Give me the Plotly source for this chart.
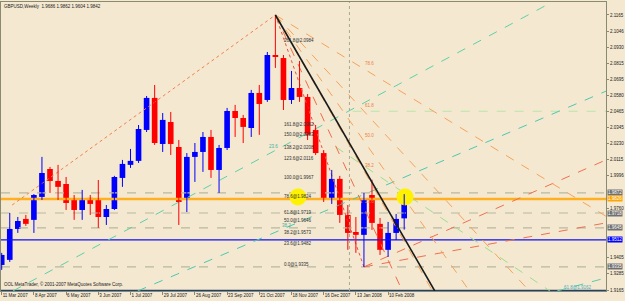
import plotly.graph_objects as go

# ---------------- data ----------------
tick_bars = [0, 4, 8, 12, 16, 20, 24, 28, 32, 36, 40, 44, 48]
tick_labels = ["11 Mar 2007", "8 Apr 2007", "6 May 2007", "3 Jun 2007", "1 Jul 2007",
               "29 Jul 2007", "26 Aug 2007", "23 Sep 2007", "21 Oct 2007", "18 Nov 2007",
               "16 Dec 2007", "13 Jan 2008", "10 Feb 2008"]

opens = [1.9347, 1.9384, 1.9609, 1.9682, 1.9675, 1.9842, 2.0045, 1.9958, 1.9936, 1.9827,
         1.9747, 1.9835, 1.9820, 1.9696, 1.9754, 1.9980, 2.0075, 2.0104, 2.0329, 2.0562,
         2.0227, 2.0387, 2.0205, 1.9820, 2.0133, 2.0169, 2.0278, 2.0038, 2.0198, 2.0467,
         2.0416, 2.0343, 2.0598, 2.0547, 2.0874, 2.0852, 2.0547, 2.0634, 2.0569, 2.0329,
         2.0161, 1.9820, 1.9973, 1.9711, 1.9587, 1.9566, 1.9856, 1.9646, 1.9457, 1.9580,
         1.9686]
highs = [1.9435, 1.9725, 1.9696, 1.9711, 1.9863, 2.0133, 2.0060, 2.0075, 1.9987, 1.9856,
         1.9893, 1.9856, 1.9965, 1.9783, 1.9995, 2.0111, 2.0191, 2.0365, 2.0576, 2.0656,
         2.0452, 2.0460, 2.0256, 2.0161, 2.0234, 2.0314, 2.0329, 2.0220, 2.0489, 2.0511,
         2.0438, 2.0620, 2.0656, 2.0896, 2.1165, 2.0874, 2.0758, 2.0831, 2.0590, 2.0365,
         2.0183, 2.0038, 1.9995, 1.9783, 1.9696, 1.9871, 1.9967, 1.9689, 1.9660, 1.9718,
         1.9862]
lows = [1.9311, 1.9369, 1.9580, 1.9631, 1.9580, 1.9820, 1.9871, 1.9820, 1.9747, 1.9675,
        1.9675, 1.9711, 1.9617, 1.9638, 1.9747, 1.9915, 2.0053, 2.0089, 2.0314, 2.0220,
        2.0169, 2.0147, 1.9638, 1.9732, 1.9951, 2.0024, 1.9980, 1.9871, 2.0183, 2.0278,
        2.0234, 2.0278, 2.0293, 2.0533, 2.0780, 2.0474, 2.0518, 2.0533, 2.0256, 2.0147,
        1.9805, 1.9791, 1.9653, 1.9457, 1.9435, 1.9333, 1.9602, 1.9420, 1.9406, 1.9529,
        1.9604]
closes = [1.9420, 1.9609, 1.9667, 1.9646, 1.9856, 2.0016, 1.9958, 1.9915, 1.9798, 1.9747,
          1.9820, 1.9791, 1.9696, 1.9754, 1.9987, 2.0082, 2.0104, 2.0336, 2.0562, 2.0234,
          2.0402, 2.0227, 1.9805, 2.0133, 2.0169, 2.0278, 2.0038, 2.0198, 2.0467, 2.0416,
          2.0351, 2.0598, 2.0518, 2.0874, 2.0860, 2.0547, 2.0634, 2.0569, 2.0293, 2.0161,
          1.9820, 1.9973, 1.9711, 1.9580, 1.9566, 1.9820, 1.9653, 1.9457, 1.9580, 1.9682,
          1.9842]

price_ticks = [2.1165, 2.1046, 2.0930, 2.0815, 2.0695, 2.0580, 2.0465, 2.0345, 2.0230,
               2.0115, 1.9996, 1.9760, 1.9405, 1.9285, 1.9165]

# horizontal levels
gray_levels = [1.9871, 1.9725, 1.9617, 1.9333]
gray_level_text = ["1.9872", "1.9718", "1.9645", "1.9335"]
orange_level = 1.9827
orange_level_text = "1.9826"
blue_level = 1.9529
blue_level_text = "1.9512"
green_level = 2.0465
green_level_start = 43.6

# Fibonacci fan: from the peak to the January low
peak_bar, peak_price = 34.0, 2.1165
low_bar, low_price = 45.0, 1.9333
fan_levels = [0.786, 0.618, 0.500, 0.382, 0.236]
fan_texts = ["78.6", "61.8", "50.0", "38.2", "23.6"]
fan_colors = ["#F5A35A", "#F5A35A", "#F5A35A", "#F5A35A", "#F26B4A"]
black_end = (53.8, 1.9158)
# rising dotted line into the peak
rise_start = (1.3, 1.9783)
# green / cyan rising lines (start bar, start price, end bar, end price)
green_lines = [(1.4, 1.9158, 68.0, 2.1247),
               (16.9, 1.9158, 75.07, 2.0611),
               (69.0, 1.9158, 75.07, 1.9253)]
# light green falling line
lgreen_line = (41.5, 2.0205, 68.1, 1.9158)
# red rising lines from the low
red_lines = [(45.0, 1.9333, 75.07, 2.0111),
             (45.0, 1.9333, 75.07, 1.9653)]
fan_vertical_bar = 43.2

fib_texts = ["261.8@2.0984", "161.8@2.0362", "150.0@2.0283", "138.2@2.0208", "123.6@2.0116",
             "100.0@1.9967", "78.6@1.9824", "61.8@1.9719", "50.0@1.9646", "38.2@1.9573",
             "23.6@1.9482", "0.0@1.9335"]
fib_text_prices = [2.0983, 2.0365, 2.0293, 2.0205, 2.0125, 1.9980, 1.9842, 1.9732,
                   1.9667, 1.9580, 1.9500, 1.9347]
yellow_bars = [36.8, 50.1]
yellow_prices = [1.9842, 1.9842]

title_text = "GBPUSD,Weekly  1.9686 1.9862 1.9604 1.9842"
copyright_text = "OOL MetaTrader, \u00a9 2001-2007 MetaQuotes Software Corp."

# ---------------- figure ----------------
BG = "#F4E8D0"
AX = "#8A8A70"
XMIN, XMAX = -0.087, 75.07
YMIN, YMAX = 1.91577, 2.12595
FONT = "Liberation Sans"
FS = 4.5

fig = go.Figure()

def seg(x0, y0, x1, y1, color, dash="dash", width=1):
    fig.add_trace(go.Scatter(x=[x0, x1], y=[y0, y1], mode="lines",
                             line=dict(color=color, width=width, dash=dash),
                             hoverinfo="skip", showlegend=False))

# horizontal lines
for lv in gray_levels:
    seg(XMIN, lv, XMAX, lv, "#B8B8A0", "dash", 1.2)
seg(green_level_start, green_level, XMAX, green_level, "#B8E6A8", "dash", 1.2)
seg(XMIN, orange_level, XMAX, orange_level, "#FFB020", "solid", 2.5)
seg(XMIN, blue_level, XMAX, blue_level, "#1010F0", "solid", 1.3)
seg(XMIN, YMIN + 0.0004, XMAX, YMIN + 0.0004, "#204070", "solid", 1.5)

# vertical dotted
seg(fan_vertical_bar, YMIN, fan_vertical_bar, YMAX, "#A8A890", "dot", 1)

# green / cyan rising lines
gcols = ["#5ED0A8", "#4CC8B0", "#5CCCB0"]
for (a, b, c, d), col in zip(green_lines, gcols):
    seg(a, b, c, d, col, "dash", 1)
seg(*lgreen_line, "#9ADF90", "dash", 1)
for (a, b, c, d) in red_lines:
    seg(a, b, c, d, "#F07050", "dash", 1)

# rising dotted into the peak
seg(rise_start[0], rise_start[1], peak_bar, peak_price, "#F08050", "dot", 1)
# fan base line (peak to low)
seg(peak_bar, peak_price, low_bar, low_price, "#F05040", "dot", 1)

# fan rays: through the fan level on the low bar's vertical, extended to the plot edge
fan_text_prices = []
for lvl, col in zip(fan_levels, fan_colors):
    p2 = low_price + (peak_price - low_price) * lvl
    slope = (p2 - peak_price) / (low_bar - peak_bar)
    xe = XMAX
    ye = peak_price + slope * (xe - peak_bar)
    if ye < YMIN:
        ye = YMIN
        xe = peak_bar + (YMIN - peak_price) / slope
    seg(peak_bar, peak_price, xe, ye, col, "dash", 1)
    fan_text_prices.append(p2 + 0.004)

# yellow circles
fig.add_trace(go.Scatter(x=yellow_bars, y=yellow_prices, mode="markers",
                         marker=dict(size=17, color="#FFF200", line=dict(width=0)),
                         hoverinfo="skip", showlegend=False))

# candles
idx = list(range(len(opens)))
for up, col in [(True, "#0000FF"), (False, "#FF0000")]:
    wx, wy = [], []
    bx, bb, bh = [], [], []
    for i in idx:
        if (closes[i] >= opens[i]) == up:
            wx += [i, i, None]
            wy += [lows[i], highs[i], None]
            bx.append(i)
            bb.append(min(opens[i], closes[i]))
            bh.append(max(abs(closes[i] - opens[i]), 0.0003))
    fig.add_trace(go.Scatter(x=wx, y=wy, mode="lines", line=dict(color=col, width=1),
                             hoverinfo="skip", showlegend=False))
    fig.add_trace(go.Bar(x=bx, y=bh, base=bb, width=0.7, marker=dict(color=col, line=dict(width=0)),
                         hoverinfo="skip", showlegend=False))

# black trend line on top
seg(peak_bar, peak_price, black_end[0], black_end[1], "#1A1A1A", "solid", 1.6)

# annotations
ann = []
for t, p in zip(fib_texts, fib_text_prices):
    ann.append(dict(x=35.0, y=p, text=t, showarrow=False, xanchor="left", yanchor="middle",
                    borderpad=0, font=dict(size=FS, color="#303030", family=FONT)))
for t, p in zip(fan_texts, fan_text_prices):
    ann.append(dict(x=low_bar, y=p, text=t, showarrow=False, xanchor="left", yanchor="middle",
                    borderpad=0, font=dict(size=FS, color="#F08040", family=FONT)))
ann.append(dict(x=33.8, y=2.0206, text="23.6", showarrow=False, xanchor="center", borderpad=0,
                font=dict(size=FS, color="#40B0A0", family=FONT)))
ann.append(dict(x=35.4, y=1.9635, text="38.2", showarrow=False, xanchor="center", borderpad=0,
                font=dict(size=FS, color="#40B0A0", family=FONT)))
ann.append(dict(x=71.6, y=1.9180, text="61.8@1.9162", showarrow=False, xanchor="center", borderpad=0,
                font=dict(size=FS, color="#40B0C0", family=FONT)))
# right axis boxes
def box(p, t, bg, fg="white"):
    ann.append(dict(x=1.0, xref="paper", y=p, text=t, showarrow=False, xanchor="left",
                    yanchor="middle", xshift=1, bgcolor=bg, borderpad=0,
                    font=dict(size=FS, color=fg, family=FONT)))
for p, t in zip(gray_levels, gray_level_text):
    box(p, t, "#707070")
box(orange_level, orange_level_text, "#FFA500")
box(blue_level, blue_level_text, "#0000FF")

ann.append(dict(x=0.004, y=0.985, xref="paper", yref="paper", text=title_text, showarrow=False,
                xanchor="left", yanchor="middle", borderpad=0,
                font=dict(size=FS, color="#202020", family=FONT)))
ann.append(dict(x=0.003, y=0.012, xref="paper", yref="paper", text=copyright_text, showarrow=False,
                xanchor="left", yanchor="bottom", borderpad=0,
                font=dict(size=FS, color="#202020", family=FONT)))

fig.update_layout(
    width=625, height=301,
    margin=dict(l=1, r=19, t=2, b=10),
    paper_bgcolor=BG, plot_bgcolor=BG,
    barmode="overlay", showlegend=False,
    annotations=ann,
    xaxis=dict(range=[XMIN, XMAX], tickvals=tick_bars, ticktext=tick_labels, tickangle=0,
               ticks="outside", ticklen=3, tickcolor=AX,
               tickfont=dict(size=FS, color="#202020", family=FONT),
               ticklabelposition="outside right", showgrid=False, zeroline=False,
               showline=True, linecolor=AX, linewidth=1, mirror=True),
    yaxis=dict(range=[YMIN, YMAX], side="right", tickvals=price_ticks,
               ticktext=[f"{v:.4f}" for v in price_ticks],
               ticks="outside", ticklen=2, tickcolor=AX,
               tickfont=dict(size=FS, color="#202020", family=FONT),
               showgrid=False, zeroline=False, showline=True, linecolor=AX, linewidth=1, mirror=True),
)

fig.write_html("out.html")
